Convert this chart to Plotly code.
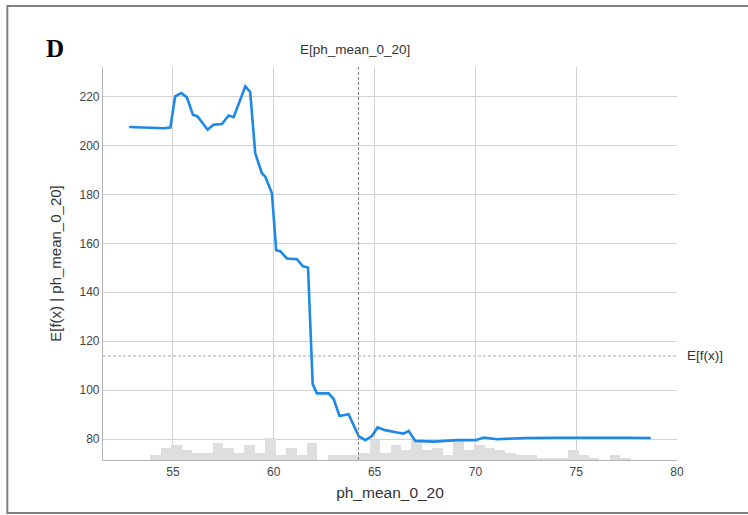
import plotly.graph_objects as go

# Partial dependence curve: expected model output vs. ph_mean_0_20
ph_values = [52.83, 54.53, 54.87, 55.11, 55.41, 55.69, 55.99, 56.22, 56.72, 57.01,
             57.43, 57.76, 58.01, 58.59, 58.83, 59.08, 59.41, 59.58, 59.91, 60.12,
             60.32, 60.65, 61.15, 61.45, 61.70, 61.93, 62.14, 62.72, 62.97, 63.26,
             63.71, 63.88, 64.21, 64.54, 64.87, 65.15, 65.53, 66.11, 66.44, 66.69,
             67.02, 67.93, 69.09, 70.00, 70.41, 71.07, 71.73, 72.50, 74.00, 75.00,
             76.00, 77.50, 78.70]
expected_fx = [207.5, 207.0, 207.3, 220.0, 221.4, 219.6, 212.5, 211.8, 206.4, 208.4,
               208.7, 212.2, 211.5, 224.1, 221.8, 196.8, 188.6, 187.2, 180.4, 157.2,
               156.8, 153.8, 153.5, 150.6, 150.1, 102.5, 98.7, 98.7, 96.4, 89.5,
               90.2, 87.2, 81.3, 79.6, 81.3, 84.8, 83.7, 82.7, 82.3, 83.4,
               79.3, 79.0, 79.6, 79.6, 80.7, 80.0, 80.3, 80.5, 80.6, 80.5,
               80.6, 80.6, 80.5]

# Distribution of ph_mean_0_20 in the data (histogram bins)
hist_start = 53.88
hist_width = 0.518
hist_counts = [2, 5, 6, 4, 3, 3, 7, 5, 3, 6, 3, 9, 2, 5, 2, 7, 0, 2, 2, 2,
               3, 8, 3, 6, 4, 8, 4, 5, 2, 8, 4, 6, 5, 4, 3, 2, 2, 1, 1, 1,
               4, 2, 1, 0, 2, 1, 0]
hist_centers = [hist_start + hist_width * (i + 0.5) for i in range(len(hist_counts))]

# Reference expectations
mean_feature = 64.2    # E[ph_mean_0_20]
mean_output = 114.0    # E[f(x)]

x_ticks = [55, 60, 65, 70, 75, 80]
y_ticks = [80, 100, 120, 140, 160, 180, 200, 220]

FONT = "Liberation Sans, Arial, sans-serif"
GRID = "#d2d2d2"

fig = go.Figure()

fig.add_trace(go.Bar(
    x=hist_centers, y=hist_counts, width=hist_width,
    marker=dict(color="#dedede", line=dict(width=0)),
    yaxis="y", hoverinfo="skip", showlegend=False,
))

fig.add_trace(go.Scatter(
    x=ph_values, y=expected_fx, mode="lines",
    line=dict(color="#1E88E5", width=2.6),
    yaxis="y2", showlegend=False,
))

fig.update_layout(
    width=748, height=515, autosize=False,
    margin=dict(l=103, r=71, t=67, b=55),
    paper_bgcolor="white", plot_bgcolor="white",
    font=dict(family=FONT, color="#333333"),
    bargap=0,
    xaxis=dict(
        range=[51.53, 80.0], tickvals=x_ticks,
        showgrid=True, gridcolor=GRID, gridwidth=1,
        showline=True, linecolor="#b5b5b5", linewidth=1.2,
        zeroline=False, ticks="", tickfont=dict(size=12, color="#444444"),
        title=dict(text="ph_mean_0_20", font=dict(size=15.5, color="#333333"), standoff=9),
    ),
    yaxis=dict(
        range=[0, 161], visible=False, showgrid=False, zeroline=False,
    ),
    yaxis2=dict(
        overlaying="y", side="left",
        range=[71.5, 232.0], tickvals=y_ticks,
        showgrid=True, gridcolor=GRID, gridwidth=1,
        showline=True, linecolor="#b5b5b5", linewidth=1.2,
        zeroline=False, ticks="", tickfont=dict(size=12, color="#444444"),
        title=dict(text="E[f(x) | ph_mean_0_20]", font=dict(size=15, color="#333333"), standoff=14),
    ),
    shapes=[
        # E[ph_mean_0_20] marker
        dict(type="line", xref="x", yref="paper", x0=mean_feature, x1=mean_feature,
             y0=0, y1=1, line=dict(color="#808080", width=1, dash="3px,2px"), layer="above"),
        # E[f(x)] marker
        dict(type="line", xref="paper", yref="y2", x0=0, x1=1,
             y0=mean_output, y1=mean_output,
             line=dict(color="#aaaaaa", width=1, dash="3px,2px"), layer="below"),
        # panel frame (left, top and bottom edges)
        dict(type="path", xref="paper", yref="paper",
             path="M 1.25,1.1552 L -0.1667,1.1552 L -0.1667,-0.1349 L 1.25,-0.1349",
             line=dict(color="#808080", width=2)),
    ],
    annotations=[
        dict(text="E[ph_mean_0_20]", xref="x", yref="paper", x=mean_feature - 0.15, y=1.0,
             yshift=8, xanchor="center", yanchor="bottom", showarrow=False,
             font=dict(size=13.5, color="#333333")),
        dict(text="E[f(x)]", xref="paper", yref="y2", x=1.0, y=mean_output,
             xshift=8, xanchor="left", yanchor="middle", showarrow=False,
             font=dict(size=13.5, color="#333333")),
        dict(text="<b>D</b>", xref="paper", yref="paper", x=-0.083, y=1.048,
             xanchor="center", yanchor="middle", showarrow=False,
             font=dict(family="Liberation Serif, Times New Roman, serif", size=25, color="#000000")),
    ],
)

fig.write_html("out.html")
